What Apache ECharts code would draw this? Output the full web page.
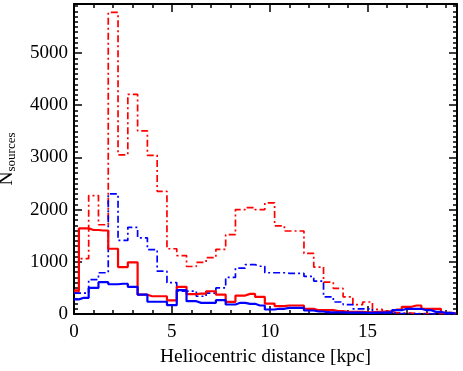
<!DOCTYPE html>
<html>
<head>
<meta charset="utf-8">
<script src="https://cdn.jsdelivr.net/npm/echarts@6/dist/echarts.min.js"></script>
<style>
  html, body { margin: 0; padding: 0; background: #fff; }
  #echarts { width: 463px; height: 371px; }
</style>
</head>
<body>
<div id="echarts"></div>
<script>
// bin centres in kpc (bins are 0.5 kpc wide)
let binCenters = [0, 0.5, 1, 1.5, 2, 2.5, 3, 3.5, 4, 4.5, 5, 5.5, 6, 6.5, 7, 7.5, 8, 8.5, 9, 9.5,
    10, 10.5, 11, 11.5, 12, 12.5, 13, 13.5, 14, 14.5, 15, 15.5, 16, 16.5, 17, 17.5, 18, 18.5, 19, 19.5];

let redDashDot = [420, 1060, 2270, 1710, 5780, 3050, 4210, 3510, 3040, 2350, 1250, 1120, 910, 990, 1080, 1240, 1520, 2000, 2040, 2000,
    2130, 1690, 1590, 1590, 1160, 900, 610, 490, 330, 180, 230, 90, 40, 20, 15, 10, 10, 5, 5, 0];
let blueDashDot = [400, 400, 660, 790, 2300, 1410, 1660, 1460, 1235, 820, 600, 440, 440, 340, 400, 500, 700, 880, 945, 915,
    790, 790, 780, 780, 720, 630, 330, 230, 180, 100, 100, 30, 20, 10, 10, 5, 5, 0, 0, 0];
let redSolid = [455, 1640, 1610, 1600, 1250, 900, 990, 370, 340, 340, 260, 520, 380, 390, 436, 373, 233, 354, 386, 329,
    200, 150, 163, 163, 100, 73, 73, 54, 40, 40, 30, 40, 50, 86, 138, 163, 100, 100, 23, 15];
let blueSolid = [280, 310, 500, 610, 570, 580, 520, 370, 235, 235, 170, 456, 245, 214, 214, 264, 182, 214, 195, 163,
    86, 100, 118, 118, 67, 48, 30, 30, 25, 25, 20, 25, 30, 73, 100, 100, 73, 40, 20, 10];

let xTickLabels = ['0', '5', '10', '15'];
let yTickLabels = ['0', '1000', '2000', '3000', '4000', '5000'];

let xMax = 19.57;
let yMax = 5940;
let font = 'Liberation Serif';

function pairs(values) {
    let out = [];
    for (let i = 0; i < values.length; i++) {
        out.push([binCenters[i], values[i]]);
    }
    return out;
}

function makeSeries(name, values, color, dashed) {
    return {
        name: name,
        type: 'line',
        step: 'middle',
        symbol: 'none',
        animation: false,
        xAxisIndex: 0,
        yAxisIndex: 0,
        lineStyle: {
            color: color,
            width: dashed ? 1.7 : 2.2,
            type: dashed ? [7, 3, 2, 3] : 'solid'
        },
        data: pairs(values)
    };
}

// one axis for the long ticks (and labels), one for the short ones
function xAxisPair(position, withLabels) {
    let major = {
        type: 'value', position: position, min: 0, max: xMax, interval: 5,
        axisLine: { show: true, onZero: false, lineStyle: { color: '#000', width: 2 } },
        axisTick: { show: true, inside: true, length: 8, lineStyle: { color: '#000', width: 1.5 } },
        axisLabel: {
            show: withLabels, margin: 9, color: '#000', fontFamily: font, fontSize: 19,
            showMaxLabel: false,
            formatter: function (v) { return xTickLabels.indexOf(String(v)) >= 0 ? String(v) : ''; }
        },
        splitLine: { show: false }
    };
    if (withLabels) {
        major.name = 'Heliocentric distance [kpc]';
        major.nameLocation = 'middle';
        major.nameGap = 25;
        major.nameTextStyle = { color: '#000', fontFamily: font, fontSize: 19.5 };
    }
    let minor = {
        type: 'value', position: position, min: 0, max: xMax, interval: 1,
        axisLine: { show: false, onZero: false },
        axisTick: { show: true, inside: true, length: 4, lineStyle: { color: '#000', width: 1.5 } },
        axisLabel: { show: false },
        splitLine: { show: false }
    };
    return [major, minor];
}

function yAxisPair(position, withLabels) {
    let major = {
        type: 'value', position: position, min: 0, max: yMax, interval: 1000,
        axisLine: { show: true, onZero: false, lineStyle: { color: '#000', width: 2 } },
        axisTick: { show: true, inside: true, length: 8, lineStyle: { color: '#000', width: 1.5 } },
        axisLabel: {
            show: withLabels, margin: 6, color: '#000', fontFamily: font, fontSize: 19,
            showMaxLabel: false,
            formatter: function (v) { return yTickLabels.indexOf(String(v)) >= 0 ? String(v) : ''; }
        },
        splitLine: { show: false }
    };
    if (withLabels) {
        major.name = '{n|N}{s|sources}';
        major.nameLocation = 'middle';
        major.nameGap = 56;
        major.nameTextStyle = {
            color: '#000',
            rich: {
                n: { fontFamily: font, fontSize: 19.5, color: '#000', lineHeight: 22 },
                s: { fontFamily: font, fontSize: 13, color: '#000', lineHeight: 22, verticalAlign: 'bottom', padding: [6, 0, 0, 0] }
            }
        };
    }
    let minor = {
        type: 'value', position: position, min: 0, max: yMax, interval: 100,
        axisLine: { show: false, onZero: false },
        axisTick: { show: true, inside: true, length: 4, lineStyle: { color: '#000', width: 1.5 } },
        axisLabel: { show: false },
        splitLine: { show: false }
    };
    return [major, minor];
}

var myChart = echarts.init(document.getElementById('echarts'), null, { renderer: 'canvas' });
var option = {
    backgroundColor: '#fff',
    animation: false,
    grid: { left: 74, right: 6, top: 4, bottom: 57, containLabel: false, outerBoundsMode: 'none' },
    xAxis: xAxisPair('bottom', true).concat(xAxisPair('top', false)),
    yAxis: yAxisPair('left', true).concat(yAxisPair('right', false)),
    series: [
        makeSeries('red dash-dot', redDashDot, '#ff0000', true),
        makeSeries('blue dash-dot', blueDashDot, '#0000ff', true),
        makeSeries('red solid', redSolid, '#ff0000', false),
        makeSeries('blue solid', blueSolid, '#0000ff', false)
    ]
};
myChart.setOption(option);
</script>
</body>
</html>
